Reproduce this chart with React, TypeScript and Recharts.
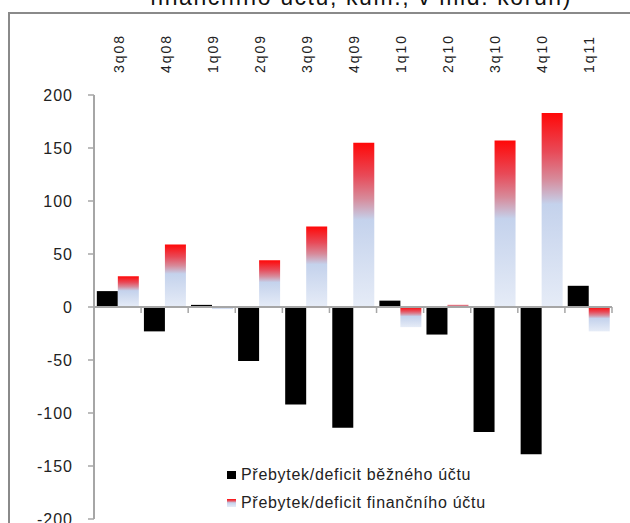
import { BarChart, Bar, XAxis, YAxis, ReferenceLine } from 'recharts';

// quarterly balances, cumulative, bn CZK
const quarters = ['3q08', '4q08', '1q09', '2q09', '3q09', '4q09', '1q10', '2q10', '3q10', '4q10', '1q11'];
const currentAccount = [15, -23, 2, -51, -92, -114, 6, -26, -118, -139, 20];
const financialAccount = [29, 59, -2, 44, 76, 155, -19, 2, 157, 183, -23];
const yTicks = [-200, -150, -100, -50, 0, 50, 100, 150, 200];

const seriesNames = {
  current: 'Přebytek/deficit běžného účtu',
  financial: 'Přebytek/deficit finančního účtu',
};

const chartData = quarters.map((q, i) => ({
  quarter: q,
  current: currentAccount[i],
  financial: financialAccount[i],
}));

const axisGrey = '#a6a6a6';
const font = '"Liberation Sans", Arial, sans-serif';

function QuarterTick(props: any) {
  const { x, y, payload } = props;
  return (
    <text
      x={x + 1}
      y={y}
      transform={`rotate(-90 ${x + 1} ${y})`}
      textAnchor="start"
      dominantBaseline="central"
      fontSize={14}
      letterSpacing={2}
      fill="#222"
      fontFamily={font}
    >
      {payload.value}
    </text>
  );
}

// zero line with Excel-like tick marks between categories
function ZeroAxis(props: any) {
  const { x1, y1, x2 } = props;
  const step = (x2 - x1) / quarters.length;
  return (
    <g>
      <line x1={x1} y1={y1} x2={x2} y2={y1} stroke={axisGrey} strokeWidth={2} />
      {quarters.map((q, i) => (
        <line
          key={q}
          x1={x1 + step * (i + 1)}
          y1={y1}
          x2={x1 + step * (i + 1)}
          y2={y1 + 6}
          stroke={axisGrey}
          strokeWidth={1.5}
        />
      ))}
    </g>
  );
}

function LegendBox() {
  const items = [
    { key: 'current', fill: '#000' },
    { key: 'financial', fill: 'url(#finGradient)' },
  ];
  return (
    <div style={{ fontFamily: font, fontSize: 16, color: '#222', letterSpacing: 0.7 }}>
      {items.map((it) => (
        <div key={it.key} style={{ display: 'flex', alignItems: 'center', height: 28 }}>
          <svg width={12} height={10} style={{ marginRight: 3 }}>
            <rect x={1} y={1} width={9} height={8} fill={it.fill} />
          </svg>
          <span>{seriesNames[it.key as 'current' | 'financial']}</span>
        </div>
      ))}
    </div>
  );
}

export default function App() {
  return (
    <div style={{ position: 'absolute', left: 0, top: 0, width: 630, height: 523, overflow: 'hidden', background: '#fff' }}>
      <div
        style={{
          position: 'absolute',
          left: 150,
          top: -14,
          fontFamily: font,
          fontSize: 23,
          lineHeight: '23px',
          whiteSpace: 'nowrap',
          color: '#111',
          letterSpacing: 1.6,
        }}
      >
        finančního účtu, kum., v mld. korun)
      </div>
      <div
        style={{
          position: 'absolute',
          left: 8,
          top: 12,
          width: 700,
          height: 600,
          borderLeft: '2px solid #8a8a8a',
          borderTop: '2px solid #8a8a8a',
        }}
      />
      <div style={{ position: 'absolute', left: 0, top: 0 }}>
        <BarChart
          width={630}
          height={530}
          data={chartData}
          margin={{ top: 35, right: 18, bottom: 11, left: 0 }}
          barCategoryGap="6%"
          barGap={0}
        >
          <defs>
            <linearGradient id="finGradient" x1="0" y1="0" x2="0" y2="1">
              <stop offset="0%" stopColor="#ff0808" />
              <stop offset="20%" stopColor="#e84a58" />
              <stop offset="34%" stopColor="#d78a9a" />
              <stop offset="47%" stopColor="#c4d2ec" />
              <stop offset="100%" stopColor="#e6ecf7" />
            </linearGradient>
          </defs>
          <XAxis
            dataKey="quarter"
            orientation="top"
            height={60}
            axisLine={false}
            tickLine={false}
            tickSize={0}
            tickMargin={22}
            interval={0}
            tick={<QuarterTick />}
          />
          <YAxis
            domain={[-200, 200]}
            ticks={yTicks}
            width={94}
            tickSize={6}
            tickMargin={15}
            axisLine={{ stroke: axisGrey, strokeWidth: 2 }}
            tickLine={{ stroke: axisGrey, strokeWidth: 1.5 }}
            tick={{ fill: '#222', fontSize: 16, fontFamily: font, letterSpacing: 1 }}
            interval={0}
          />
          <Bar dataKey="current" name={seriesNames.current} fill="#000" isAnimationActive={false} />
          <Bar dataKey="financial" name={seriesNames.financial} fill="url(#finGradient)" isAnimationActive={false} />
          <ReferenceLine y={0} shape={<ZeroAxis />} />
        </BarChart>
      </div>
      <div style={{ position: 'absolute', left: 226, top: 461, width: 320 }}>
        <LegendBox />
      </div>
    </div>
  );
}
